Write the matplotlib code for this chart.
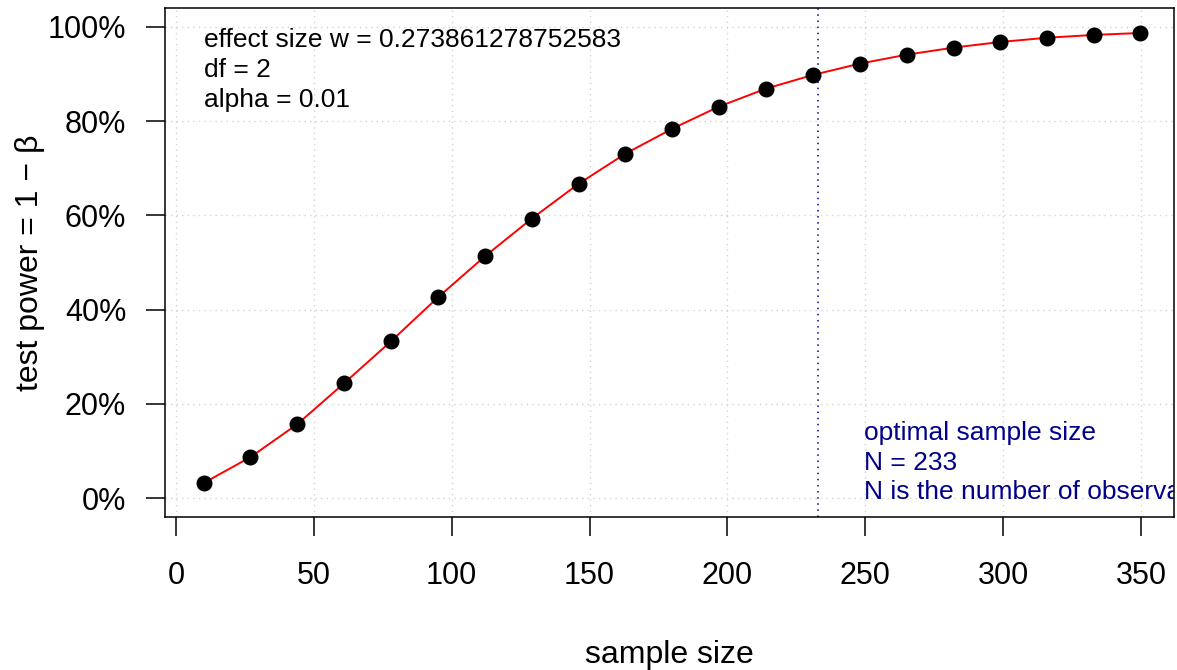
import numpy as np
import matplotlib
matplotlib.use("Agg")
import matplotlib.pyplot as plt
from matplotlib.ticker import PercentFormatter

plt.rcParams['font.family'] = ['Liberation Sans', 'DejaVu Sans']

# power curve for the chi-square test
sample_size = [10, 27, 44, 61, 78, 95, 112, 129, 146, 163, 180,
               197, 214, 231, 248, 265, 282, 299, 316, 333, 349.5]
power = [0.032, 0.087, 0.157, 0.244, 0.333, 0.426, 0.513, 0.593, 0.667, 0.731, 0.784,
         0.831, 0.869, 0.898, 0.922, 0.941, 0.956, 0.968, 0.977, 0.983, 0.987]
optimal_n = 233
info_lines = ['effect size w = 0.273861278752583', 'df = 2', 'alpha = 0.01']
optimal_lines = ['optimal sample size', f'N = {optimal_n}',
                 'N is the number of observations']

fig = plt.figure(figsize=(11.77, 6.70), dpi=100)
ax = fig.add_axes([0.1402, 0.2284, 0.8573, 0.7596])

ax.set_xlim(-4, 362)
ax.set_ylim(-0.04, 1.04)
ax.set_xticks(np.arange(0, 351, 50))
ax.set_yticks(np.arange(0, 1.01, 0.2))
ax.yaxis.set_major_formatter(PercentFormatter(1.0, decimals=0))

ax.grid(True, color='lightgray', linestyle=(0, (1, 3)), linewidth=1)
ax.set_axisbelow(True)

ax.plot(sample_size, power, color='red', linewidth=1.4, zorder=2)
ax.plot(sample_size, power, 'o', color='black', markersize=10.5, zorder=3)

ax.axvline(optimal_n, color='darkblue', linestyle=(0, (1, 3)), linewidth=1.1)

ax.text(10, 0.997, '\n'.join(info_lines), fontsize=19, va='top', ha='left',
        linespacing=1.3)
ax.text(249.5, -0.013, '\n'.join(optimal_lines), fontsize=19, va='bottom', ha='left',
        color='darkblue', linespacing=1.3, clip_on=True)

for sp in ax.spines.values():
    sp.set_linewidth(1.1)
ax.tick_params(axis='both', direction='out', length=14, width=1.1, labelsize=22)
ax.tick_params(axis='x', pad=18)
ax.tick_params(axis='y', pad=14)

ax.set_xlabel('sample size', fontsize=23)
ax.set_ylabel('test power = 1 \u2212 \u03b2', fontsize=23)
ax.xaxis.set_label_coords(0.5, -0.271)
ax.yaxis.set_label_coords(-0.134, 0.5)
ax.xaxis.label.set_va('center')
ax.yaxis.label.set_va('center')

fig.savefig('out.png', dpi=100)
